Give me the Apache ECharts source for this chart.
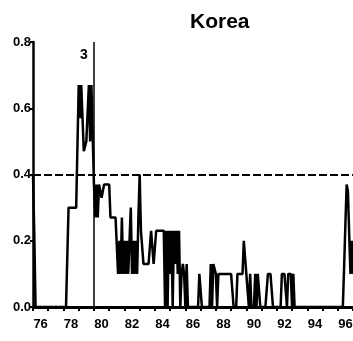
<!DOCTYPE html>
<html>
<head>
<meta charset="utf-8">
<script src="https://cdn.jsdelivr.net/npm/echarts@6/dist/echarts.min.js"></script>
<style>
  html, body { margin: 0; padding: 0; background: #fff; }
  #chart { width: 353px; height: 341px; }
</style>
</head>
<body>
<div id="chart"></div>
<script>
// Monthly series, January 1976 through January 1997
const startYear = 1976;
const share = [
  /* 1976 */ 0.4, 0.22, 0, 0, 0, 0, 0, 0, 0, 0, 0, 0,
  /* 1977 */ 0, 0, 0, 0, 0, 0, 0, 0, 0, 0, 0, 0,
  /* 1978 */ 0, 0, 0, 0, 0.3, 0.3, 0.3, 0.3, 0.3, 0.3, 0.3, 0.3,
  /* 1979 */ 0.67, 0.57, 0.67, 0.57, 0.47, 0.47, 0.5, 0.5, 0.67, 0.5, 0.67, 0.67,
  /* 1980 */ 0.37, 0.27, 0.37, 0.27, 0.37, 0.37, 0.33, 0.33, 0.37, 0.37, 0.37, 0.37,
  /* 1981 */ 0.37, 0.27, 0.27, 0.27, 0.27, 0.27, 0.27, 0.1, 0.2, 0.1, 0.27, 0.1,
  /* 1982 */ 0.2, 0.1, 0.2, 0.1, 0.2, 0.3, 0.1, 0.2, 0.1, 0.2, 0.1, 0.27,
  /* 1983 */ 0.4, 0.23, 0.23, 0.13, 0.13, 0.13, 0.13, 0.13, 0.13, 0.23, 0.23, 0.13,
  /* 1984 */ 0.13, 0.23, 0.23, 0.23, 0.23, 0.23, 0.23, 0.23, 0, 0.23, 0, 0.23,
  /* 1985 */ 0.1, 0.23, 0, 0.23, 0.13, 0.23, 0.1, 0.23, 0, 0.1, 0.13, 0.1,
  /* 1986 */ 0, 0.13, 0, 0, 0, 0, 0, 0, 0, 0, 0, 0.1,
  /* 1987 */ 0.1, 0, 0, 0, 0, 0, 0, 0, 0.13, 0, 0.13, 0.13,
  /* 1988 */ 0.1, 0, 0.1, 0.1, 0.1, 0.1, 0.1, 0.1, 0.1, 0.1, 0.1, 0.1,
  /* 1989 */ 0.1, 0.1, 0, 0, 0, 0.1, 0.1, 0.1, 0.1, 0.1, 0.2, 0.2,
  /* 1990 */ 0.1, 0.1, 0, 0.1, 0, 0, 0, 0.1, 0, 0.1, 0.1, 0,
  /* 1991 */ 0, 0, 0, 0, 0, 0.1, 0.1, 0.1, 0.1, 0, 0, 0,
  /* 1992 */ 0, 0, 0, 0, 0.1, 0.1, 0.1, 0.1, 0, 0.1, 0.1, 0.1,
  /* 1993 */ 0, 0.1, 0, 0, 0, 0, 0, 0, 0, 0, 0, 0,
  /* 1994 */ 0, 0, 0, 0, 0, 0, 0, 0, 0, 0, 0, 0,
  /* 1995 */ 0, 0, 0, 0, 0, 0, 0, 0, 0, 0, 0, 0,
  /* 1996 */ 0, 0, 0, 0, 0, 0.12, 0.25, 0.37, 0.35, 0.22, 0.1, 0.2,
  /* 1997 */ 0.1
];

// Month categories ("YYYY-MM"), one per value
const months = share.map((_, i) => {
  const y = startYear + Math.floor(i / 12);
  const m = (i % 12) + 1;
  return y + '-' + (m < 10 ? '0' + m : m);
});

const chartTitle = 'Korea';
const thresholdValue = 0.4;
const eventMonth = '1980-01';
const eventLabel = '3';
const eventLabelPos = ['1979-05', 0.76];
const yTicks = { min: 0, max: 0.8, step: 0.2 };

const font = 'Liberation Sans, Arial, sans-serif';
const chart = echarts.init(document.getElementById('chart'), null, { renderer: 'canvas' });

chart.setOption({
  animation: false,
  backgroundColor: '#fff',
  title: {
    text: chartTitle,
    left: 185,
    top: 7,
    textStyle: { fontFamily: font, fontWeight: 'bold', fontSize: 21, color: '#000' }
  },
  grid: {
    left: 33, right: 0, top: 42, bottom: 34,
    containLabel: false,
    outerBoundsMode: 'none'
  },
  xAxis: {
    type: 'category',
    data: months,
    boundaryGap: false,
    axisLine: { lineStyle: { color: '#000', width: 3 } },
    axisTick: {
      show: true,
      interval: (idx) => idx % 12 === 0,
      length: 4,
      lineStyle: { color: '#000', width: 2 }
    },
    axisLabel: {
      interval: (idx) => idx % 24 === 6,
      formatter: (v) => v.slice(2, 4),
      margin: 11,
      color: '#000',
      fontFamily: font,
      fontWeight: 'bold',
      fontSize: 13
    },
    splitLine: { show: false }
  },
  yAxis: {
    type: 'value',
    min: yTicks.min,
    max: yTicks.max,
    interval: yTicks.step,
    axisLine: { show: true, lineStyle: { color: '#000', width: 2.5 } },
    axisTick: { show: true, length: 3, lineStyle: { color: '#000', width: 2 } },
    axisLabel: {
      formatter: (v) => v.toFixed(1),
      margin: 2,
      color: '#000',
      fontFamily: font,
      fontWeight: 'bold',
      fontSize: 13
    },
    splitLine: { show: false }
  },
  series: [{
    type: 'line',
    data: share,
    symbol: 'none',
    lineStyle: { color: '#000', width: 2.5 },
    markLine: {
      silent: true,
      symbol: ['none', 'none'],
      label: { show: false },
      data: [
        { yAxis: thresholdValue, lineStyle: { color: '#000', width: 2, type: [8, 3] } },
        { xAxis: eventMonth, lineStyle: { color: '#000', width: 1.5, type: 'solid' } }
      ]
    },
    markPoint: {
      silent: true,
      symbol: 'circle',
      symbolSize: 1,
      itemStyle: { color: 'rgba(0,0,0,0)' },
      label: {
        show: true,
        position: 'inside',
        formatter: eventLabel,
        color: '#000',
        fontFamily: font,
        fontWeight: 'bold',
        fontSize: 14
      },
      data: [{ coord: eventLabelPos }]
    }
  }]
});
</script>
</body>
</html>
